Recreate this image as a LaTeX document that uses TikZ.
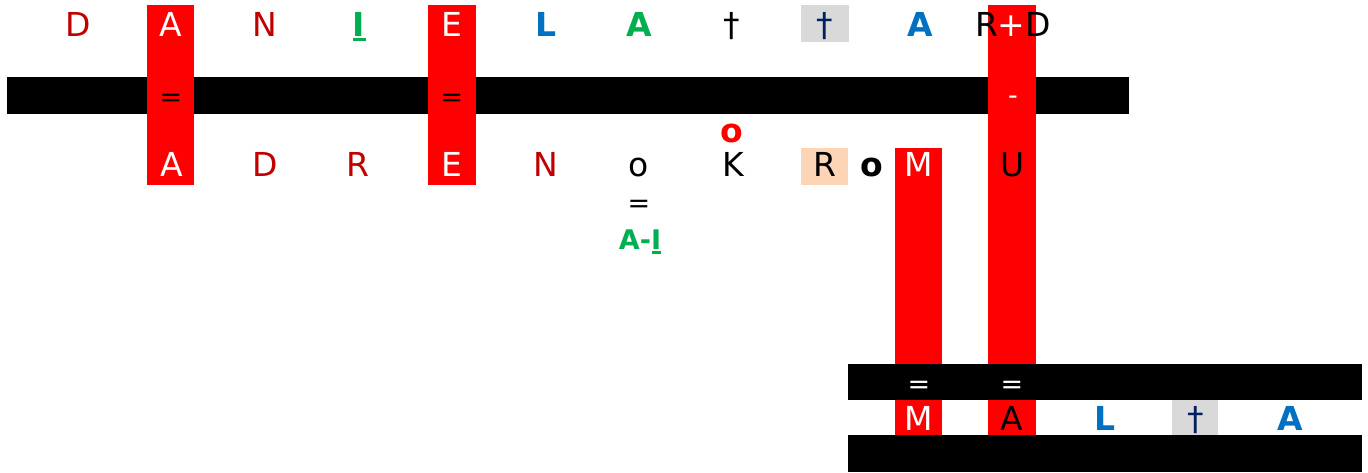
\documentclass[tikz,border=0pt]{standalone}
\usepackage{fontspec}
\setmainfont{DejaVu Sans}
\definecolor{dred}{HTML}{C00000}
\definecolor{grn}{HTML}{00B050}
\definecolor{blu}{HTML}{0070C0}
\definecolor{navy}{HTML}{002060}
\definecolor{gbox}{HTML}{D9D9D9}
\definecolor{peach}{HTML}{FBD5B5}
\definecolor{rcol}{HTML}{FF0000}
\tikzset{
  lt/.style={inner sep=0pt, anchor=base, font=\fontsize{33}{36}\selectfont},
  ltb/.style={inner sep=0pt, anchor=base, font=\fontsize{33}{36}\selectfont\bfseries},
  sm/.style={inner sep=0pt, anchor=base, font=\fontsize{27}{30}\selectfont},
  smb/.style={inner sep=0pt, anchor=base, font=\fontsize{27}{30}\selectfont\bfseries},
  bar/.style={fill=black, draw=none},
  redcol/.style={fill=rcol, draw=none},
}
\begin{document}
\begin{tikzpicture}[x=1pt,y=-1pt]
\useasboundingbox (0,0) rectangle (1368,473);
% top black bar
\fill[bar] (7,77) rectangle (1129,114);
% highlight boxes
\fill[gbox] (801,5) rectangle (849,42);
\fill[peach] (801,148) rectangle (848,185);
% red columns
\fill[redcol] (147,5) rectangle (194,185);
\fill[redcol] (428,5) rectangle (476,185);
\fill[redcol] (895,148) rectangle (942,435);
\fill[redcol] (988,5) rectangle (1036,435);
% lower black bars
\fill[bar] (848,364) rectangle (1362,400);
\fill[bar] (848,435) rectangle (1362,472);
\fill[gbox] (1172,400) rectangle (1218,435);
% top row
\node[lt,dred] (t1) at (78,37) {D};
\node[lt,white] (t2) at (171,37) {A};
\node[lt,dred] (t3) at (265,37) {N};
\node[ltb,grn] (t4) at (359,37) {I};
\fill[grn] (353,38) rectangle (366,41);
\node[lt,white] (t5) at (452,37) {E};
\node[ltb,blu] (t6) at (546,37) {L};
\node[ltb,grn] (t7) at (639,37) {A};
\node[lt,black] (t8) at (732,37) {†};
\node[lt,navy] (t9) at (825,37) {†};
\node[ltb,blu] (t10) at (920,37) {A};
\node[lt,black] (t11) at (1013,37) {R\textcolor{white}{+}D};
% signs on top bar
\node[sm,black] (e1) at (171,107) {=};
\node[sm,black] (e2) at (452,107) {=};
\node[sm,white] (m1) at (1013,105) {-};
% red o
\node[ltb,rcol] (o1) at (732,143) {o};
% middle row
\node[lt,white] (b1) at (172,177) {A};
\node[lt,dred] (b2) at (265,177) {D};
\node[lt,dred] (b3) at (358,177) {R};
\node[lt,white] (b4) at (452,177) {E};
\node[lt,dred] (b5) at (546,177) {N};
\node[lt,black] (b6) at (639,177) {o};
\node[lt,black] (b7) at (733,177) {K};
\node[lt,black] (b8) at (825,177) {R};
\node[ltb,black] (b9) at (872,177) {o};
\node[lt,white] (b10) at (919,177) {M};
\node[lt,black] (b11) at (1013,177) {U};
% = and A-I
\node[sm,black] (e3) at (639,213) {=};
\node[smb,grn] (ai) at (640,249) {A-I};
\fill[grn] (652,251) rectangle (661,254);
% lower bar signs
\node[sm,white] (e4) at (919,393) {=};
\node[sm,white] (e5) at (1012,393) {=};
% bottom row
\node[lt,white] (c1) at (919,430) {M};
\node[lt,black] (c2) at (1012,430) {A};
\node[ltb,blu] (c3) at (1105,430) {L};
\node[lt,navy] (c4) at (1196,430) {†};
\node[ltb,blu] (c5) at (1290,430) {A};
\end{tikzpicture}
\end{document}
